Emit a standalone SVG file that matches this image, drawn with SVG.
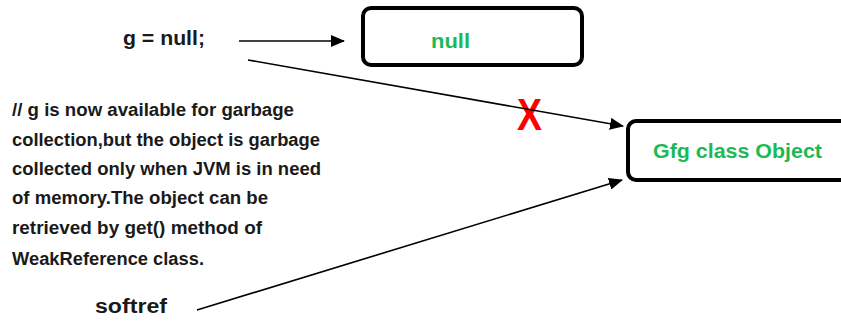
<svg xmlns="http://www.w3.org/2000/svg" width="841" height="323" viewBox="0 0 841 323">
<style>
.t{font-family:"Liberation Sans",Arial,sans-serif;font-weight:bold;fill:#1a1a1a}
.g{font-family:"Liberation Sans",Arial,sans-serif;font-weight:bold;fill:#1db954}
.box{fill:#fff;stroke:#000;stroke-width:4}
.c{stroke:#000;stroke-width:1.6;fill:none}
</style>
<defs>
<marker id="ah" markerUnits="userSpaceOnUse" markerWidth="14" markerHeight="12" refX="13" refY="6" orient="auto">
<path d="M0,0 L14,6 L0,12 Z" fill="#000"/>
</marker>
</defs>
<rect width="841" height="323" fill="#fff"/>
<g id="cross">
<text x="517" y="130" font-family="Liberation Sans,Arial,sans-serif" font-weight="bold" font-size="45" fill="#ff0000" textLength="25" lengthAdjust="spacingAndGlyphs">X</text>
</g>
<g id="connectors">
<line class="c" x1="239" y1="41" x2="344" y2="41" marker-end="url(#ah)"/>
<line class="c" x1="248" y1="60" x2="623" y2="126" marker-end="url(#ah)"/>
<line class="c" x1="197" y1="310" x2="622" y2="180" marker-end="url(#ah)"/>
</g>
<g id="node-null">
<rect class="box" x="363" y="8" width="219" height="57" rx="8"/>
<text class="g" x="431" y="48" font-size="20" textLength="39" lengthAdjust="spacingAndGlyphs">null</text>
</g>
<g id="node-object">
<rect class="box" x="628" y="121" width="230" height="59" rx="8"/>
<text class="g" x="653" y="158" font-size="20" textLength="169" lengthAdjust="spacingAndGlyphs">Gfg class Object</text>
</g>
<g id="label-g">
<text class="t" x="123" y="45" font-size="20" textLength="82" lengthAdjust="spacingAndGlyphs">g = null;</text>
</g>
<g id="label-softref">
<text class="t" x="95" y="313" font-size="20" textLength="72" lengthAdjust="spacingAndGlyphs">softref</text>
</g>
<g id="comment" font-size="18">
<text class="t" x="12" y="116" textLength="282" lengthAdjust="spacingAndGlyphs">// g is now available for garbage</text>
<text class="t" x="12" y="146" textLength="308" lengthAdjust="spacingAndGlyphs">collection,but the object is garbage</text>
<text class="t" x="12" y="175" textLength="309" lengthAdjust="spacingAndGlyphs">collected only when JVM is in need</text>
<text class="t" x="12" y="204" textLength="256" lengthAdjust="spacingAndGlyphs">of memory.The object can be</text>
<text class="t" x="12" y="234" textLength="250" lengthAdjust="spacingAndGlyphs">retrieved by get() method of</text>
<text class="t" x="12" y="265" textLength="192" lengthAdjust="spacingAndGlyphs">WeakReference class.</text>
</g>
</svg>
